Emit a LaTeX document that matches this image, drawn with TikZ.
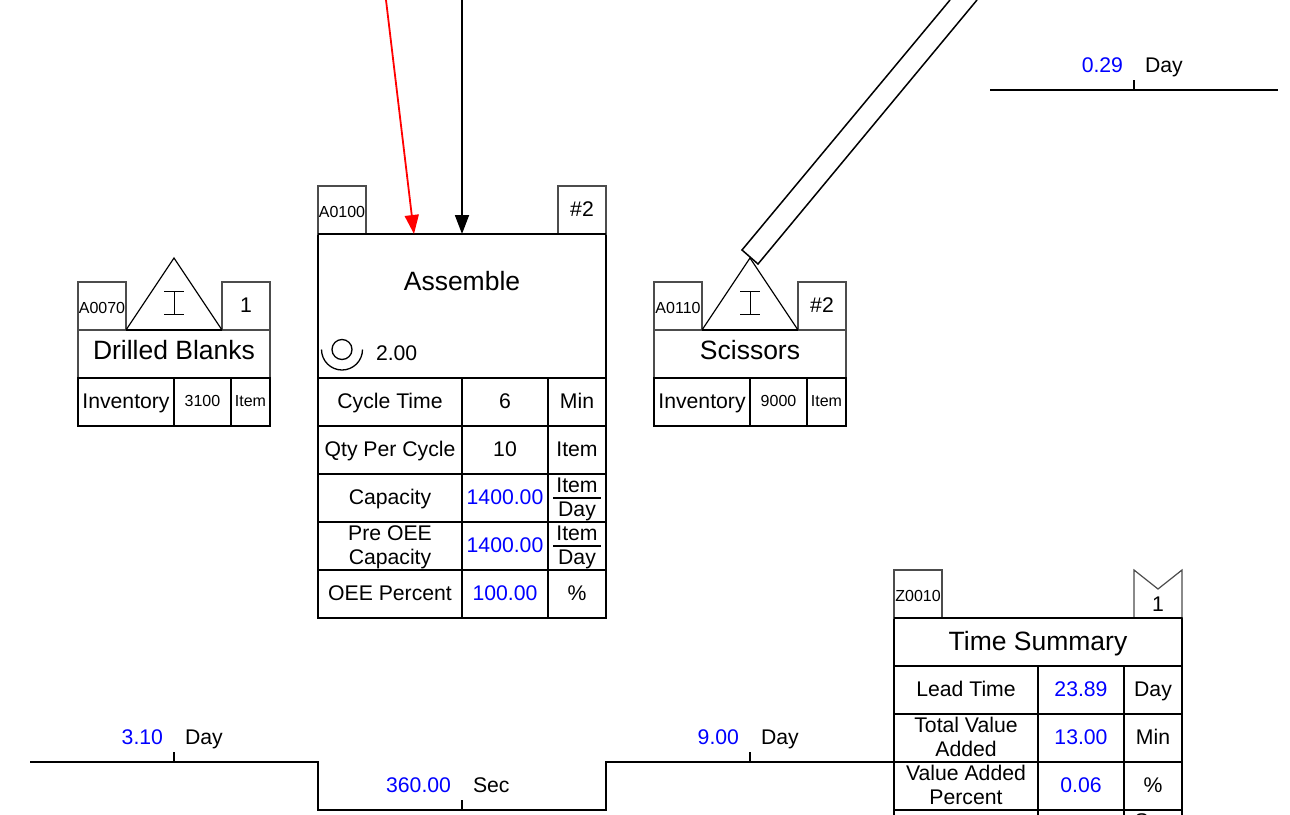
\documentclass[tikz,border=0pt]{standalone}
\usepackage{fontspec}
\setmainfont{Liberation Sans}
\usepackage{xcolor}
\usepackage{tikz}
\usetikzlibrary{arrows.meta, positioning, calc}
\newcommand{\fsize}[1]{\fontsize{#1}{24}\selectfont}
\newcommand{\lift}{\rule{0pt}{17.5pt}}
\newcommand{\invmark}[1]{\draw [line width=0.8pt] ($(#1)+(-10,33)$) -- ++(20,0) ($(#1)+(0,33)$) -- ++(0,23) ($(#1)+(-10,56)$) -- ++(20,0);}

\begin{document}
\begin{tikzpicture}[x=1pt, y=-1pt, >=Stealth]
    \tikzstyle{cell}  = [rectangle, draw=black, line width=1.6pt, inner sep=0pt, outer sep=0pt, align=center, minimum height=48pt, text height=15pt, text depth=2pt, font=\fsize{21.2}]
    \tikzstyle{two}   = [cell, text height=, text depth=]
    \tikzstyle{small} = [cell, font=\fsize{16}, text height=11.5pt, text depth=3pt]
    \tikzstyle{tab}   = [cell, draw=black!70, line width=1.2pt, minimum width=48pt]
    \tikzstyle{idtab} = [tab, font=\fsize{16}, text height=17.5pt, text depth=3pt]
    \tikzstyle{head}  = [cell, font=\fsize{26.5}, text height=23pt, text depth=6pt]
    \tikzstyle{titlebox} = [head, draw=black!70, line width=1.2pt, minimum width=192pt, text height=16pt]
    \tikzstyle{num}   = [inner sep=0pt, outer sep=0pt, text height=15pt, text depth=5pt, font=\fsize{21.2}]
    \tikzstyle{flow}  = [line width=1.8pt]
    \tikzstyle{arrowline} = [-{Triangle[length=19pt, width=14pt]}, line width=1.8pt]
    \path [use as bounding box, fill=white] (0,0) rectangle (1290,814);
    \clip (0,0) rectangle (1290,814);

    % timelines
    \coordinate (tlstart) at (30,762);
    \coordinate (tllow) at (318,810);
    \coordinate (tlhigh) at (606,762);
    \coordinate (tlend) at (894,762);
    \coordinate (tick1) at (174,762);
    \coordinate (tick2) at (462,810);
    \coordinate (tick3) at (750,762);
    \coordinate (topstart) at (990,90);
    \coordinate (topend) at (1278,90);
    \coordinate (tick4) at (1134,90);
    \draw [flow] (tlstart) -| (tllow) -| (tlhigh) -- (tlend);
    \draw [flow] (topstart) -- (topend);
    \foreach \t in {tick1, tick2, tick3, tick4}
        \draw [line width=1.3pt] (\t) -- ++(0,-10);

    \node (val1) [num, text=blue, anchor=east] at (163,739.5) {3.10};
    \node (unit1) [num, right=22pt of val1] {Day};
    \node (val2) [num, text=blue, anchor=east] at (451,787.5) {360.00};
    \node (unit2) [num, right=22pt of val2] {Sec};
    \node (val3) [num, text=blue, anchor=east] at (739,739.5) {9.00};
    \node (unit3) [num, right=22pt of val3] {Day};
    \node (val4) [num, text=blue, anchor=east] at (1123,67.5) {0.29};
    \node (unit4) [num, right=22pt of val4] {Day};

    % drilled blanks
    \node (dbtitle) [titlebox, anchor=north west] at (78,330) {Drilled Blanks};
    \node (dbtab)  [idtab, above=0pt of dbtitle.north west, anchor=south west] {A0070};
    \node (dbnum)  [tab, above=0pt of dbtitle.north east, anchor=south east] {1};
    \node (dbinv)  [cell, minimum width=96pt, below=0pt of dbtitle.south west, anchor=north west] {Inventory};
    \node (dbqty)  [small, minimum width=57pt, right=0pt of dbinv] {3100};
    \node (dbunit) [small, minimum width=39pt, right=0pt of dbqty] {Item};
    \coordinate (dbtop) at (174,258);
    \draw [line width=1.2pt] (dbtab.south east) -- (dbtop) -- (dbnum.south west);
    \draw [line width=1.6pt] (dbtab.south east) -- (dbnum.south west);
    \invmark{dbtop}

    % scissors
    \node (sctitle) [titlebox, anchor=north west] at (654,330) {Scissors};
    \node (sctab)  [idtab, above=0pt of sctitle.north west, anchor=south west] {A0110};
    \node (scnum)  [tab, above=0pt of sctitle.north east, anchor=south east] {\#2};
    \node (scinv)  [cell, minimum width=96pt, below=0pt of sctitle.south west, anchor=north west] {Inventory};
    \node (scqty)  [small, minimum width=57pt, right=0pt of scinv] {9000};
    \node (scunit) [small, minimum width=39pt, right=0pt of scqty] {Item};
    \coordinate (sctop) at (750,258);
    \draw [line width=1.2pt] (sctab.south east) -- (sctop) -- (scnum.south west);
    \draw [line width=1.6pt] (sctab.south east) -- (scnum.south west);
    \invmark{sctop}

    % assemble
    \node (asm) [cell, minimum width=288pt, minimum height=144pt, anchor=north west, text height=, text depth=] at (318,234) {};
    \node (asmname) [num, font=\fsize{26.5}, text height=19pt, text depth=6pt] at (462,284) {Assemble};
    \node (asmtab) [idtab, above=0pt of asm.north west, anchor=south west] {A0100};
    \node (asmnum) [tab, above=0pt of asm.north east, anchor=south east] {\#2};
    \draw [line width=1.6pt] (asm.north west) -- (asm.north east);
    \coordinate (opmark) at (342,349.5);
    \draw [line width=1.3pt] (opmark) circle (10);
    \draw [line width=1.3pt] ($(opmark)+(-20.5,0)$) arc[start angle=180, end angle=360, radius=20.5, y radius=-20.5];
    \node (opcount) [num, anchor=west] at (376,355.5) {2.00};

    \node (ctname) [cell, minimum width=144pt, below=0pt of asm.south west, anchor=north west] {Cycle Time};
    \node (ctval)  [cell, minimum width=86pt, right=0pt of ctname] {6};
    \node (ctunit) [cell, minimum width=58pt, right=0pt of ctval] {Min};
    \node (qcname) [cell, minimum width=144pt, below=0pt of ctname] {Qty Per Cycle};
    \node (qcval)  [cell, minimum width=86pt, right=0pt of qcname] {10};
    \node (qcunit) [cell, minimum width=58pt, right=0pt of qcval] {Item};
    \node (caname) [cell, minimum width=144pt, below=0pt of qcname] {Capacity};
    \node (caval)  [cell, text=blue, minimum width=86pt, right=0pt of caname] {1400.00};
    \node (caunit) [two, minimum width=58pt, right=0pt of caval] {\lift Item\\Day};
    \node (pcname) [two, minimum width=144pt, below=0pt of caname] {\lift Pre OEE\\Capacity};
    \node (pcval)  [cell, text=blue, minimum width=86pt, right=0pt of pcname] {1400.00};
    \node (pcunit) [two, minimum width=58pt, right=0pt of pcval] {\lift Item\\Day};
    \node (oename) [cell, minimum width=144pt, below=0pt of pcname] {OEE Percent};
    \node (oeval)  [cell, text=blue, minimum width=86pt, right=0pt of oename] {100.00};
    \node (oeunit) [cell, minimum width=58pt, right=0pt of oeval] {\%};
    \draw [line width=1.4pt] ([xshift=5pt]caunit.west) -- ([xshift=-5pt]caunit.east);
    \draw [line width=1.4pt] ([xshift=5pt]pcunit.west) -- ([xshift=-5pt]pcunit.east);

    \coordinate (redstart) at (386,0);
    \coordinate (blackstart) at (462,0);
    \draw [arrowline, red] (redstart) -- ($(asm.north)+(-48,0)$);
    \draw [arrowline] (blackstart) -- (asm.north);

    % push arrow
    \coordinate (pushleft) at (950,0);
    \coordinate (pushcorner1) at (742,250);
    \coordinate (pushcorner2) at (758,264);
    \coordinate (pushright) at (977,0);
    \draw [line width=1.5pt] (pushleft) -- (pushcorner1) -- (pushcorner2) -- (pushright);

    % time summary
    \node (tstitle) [head, minimum width=288pt, anchor=north west] at (894,618) {Time Summary};
    \node (tstab) [idtab, above=0pt of tstitle.north west, anchor=south west] {Z0010};
    \node (tsnum) [rectangle, inner sep=0pt, outer sep=0pt, minimum width=48pt, minimum height=48pt, above=0pt of tstitle.north east, anchor=south east] {};
    \node (tsone) [num] at (1158,606) {1};
    \coordinate (tsnotch) at (1158,589);
    \draw [draw=black!70, line width=1.2pt] (tsnum.south west) -- (tsnum.north west) -- (tsnotch) -- (tsnum.north east) -- (tsnum.south east);
    \draw [line width=1.6pt] (tstitle.north west) -- (tstitle.north east);

    \node (ltname) [cell, minimum width=144pt, below=0pt of tstitle.south west, anchor=north west] {Lead Time};
    \node (ltval)  [cell, text=blue, minimum width=86pt, right=0pt of ltname] {23.89};
    \node (ltunit) [cell, minimum width=58pt, right=0pt of ltval] {Day};
    \node (tvname) [two, minimum width=144pt, below=0pt of ltname] {\lift Total Value\\Added\vphantom{y}};
    \node (tvval)  [cell, text=blue, minimum width=86pt, right=0pt of tvname] {13.00};
    \node (tvunit) [cell, minimum width=58pt, right=0pt of tvval] {Min};
    \node (vaname) [two, minimum width=144pt, below=0pt of tvname] {\lift Value Added\\Percent\vphantom{y}};
    \node (vaval)  [cell, text=blue, minimum width=86pt, right=0pt of vaname] {0.06};
    \node (vaunit) [cell, minimum width=58pt, right=0pt of vaval] {\%};
    \node (nxname) [cell, minimum width=144pt, below=0pt of vaname] {};
    \node (nxval)  [cell, minimum width=86pt, right=0pt of nxname] {};
    \node (nxunit) [cell, minimum width=58pt, right=0pt of nxval] {};
    \node (nxtext) [num] at (1153,823) {Sec};
\end{tikzpicture}
\end{document}
